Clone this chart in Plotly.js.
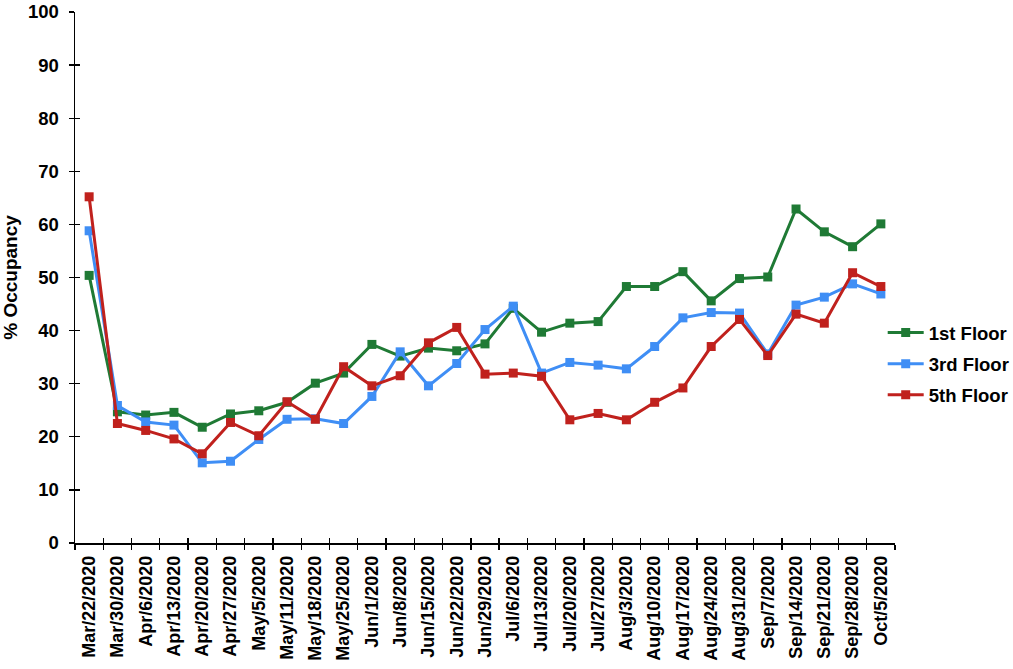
<!DOCTYPE html>
<html>
<head>
<meta charset="utf-8">
<script src="https://cdn.plot.ly/plotly-3.0.1.min.js"></script>
<style>html,body{margin:0;padding:0;background:#fff;overflow:hidden;}#chart{width:1040px;height:669px;}</style>
</head>
<body>
<div id="chart"></div>
<script>
var categories = ["Mar/22/2020","Mar/30/2020","Apr/6/2020","Apr/13/2020","Apr/20/2020","Apr/27/2020","May/5/2020","May/11/2020","May/18/2020","May/25/2020","Jun/1/2020","Jun/8/2020","Jun/15/2020","Jun/22/2020","Jun/29/2020","Jul/6/2020","Jul/13/2020","Jul/20/2020","Jul/27/2020","Aug/3/2020","Aug/10/2020","Aug/17/2020","Aug/24/2020","Aug/31/2020","Sep/7/2020","Sep/14/2020","Sep/21/2020","Sep/28/2020","Oct/5/2020"];
var floor1 = [50.4,24.7,24.1,24.6,21.8,24.3,24.9,26.5,30.1,32.0,37.4,35.2,36.7,36.2,37.5,44.2,39.7,41.4,41.7,48.3,48.3,51.1,45.6,49.8,50.1,62.9,58.6,55.8,60.1];
var floor3 = [58.8,25.9,22.8,22.2,15.1,15.4,19.5,23.3,23.4,22.5,27.6,36.0,29.6,33.8,40.2,44.6,32.0,34.0,33.5,32.8,37.0,42.4,43.4,43.3,35.6,44.8,46.3,48.8,46.9];
var floor5 = [65.2,22.5,21.2,19.6,16.8,22.7,20.2,26.6,23.3,33.2,29.6,31.5,37.7,40.6,31.8,32.0,31.4,23.2,24.4,23.2,26.5,29.2,37.0,42.1,35.3,43.1,41.4,50.9,48.3];
var seriesNames = ["1st Floor","3rd Floor","5th Floor"];
var seriesColors = ["#1f7a35","#3f8ef5","#c0211d"];
var seriesData = [floor1, floor3, floor5];
var yTicks = [0,10,20,30,40,50,60,70,80,90,100];

var traces = seriesData.map(function(d, i){
  return {
    type: 'scatter', mode: 'lines+markers',
    x: categories, y: d, name: seriesNames[i], legendgroup: 'g' + i,
    line: {color: seriesColors[i], width: 3},
    marker: {symbol: 'square', size: 9, color: seriesColors[i]}
  };
});
// helper trace for cross ticks (inside part)
traces.push({type:'scatter', mode:'markers', x:[0], y:[0], xaxis:'x2', yaxis:'y2', showlegend:false, hoverinfo:'skip', marker:{opacity:0}});

var font = "Liberation Sans, Arial, sans-serif";
var layout = {
  width: 1040, height: 669,
  margin: {l: 75, r: 145, t: 12, b: 126},
  paper_bgcolor: '#fff', plot_bgcolor: '#fff',
  showlegend: true,
  legend: {x: 0.985, xanchor: 'left', y: 0.337, yanchor: 'middle',
           font: {family: font, size: 18.5, color: '#000', weight: 'bold'}, tracegroupgap: 4, itemwidth: 36, borderwidth: 0, bgcolor: 'rgba(0,0,0,0)'},
  xaxis: {
    type: 'category', range: [-0.5, 28.5], tickson: 'boundaries',
    ticks: 'outside', ticklen: 5, tickwidth: 1.3, tickcolor: '#000',
    showline: true, linecolor: '#000', linewidth: 1.5, showgrid: false, zeroline: false,
    tickangle: -90, tickfont: {family: font, size: 18, color: '#000', weight: 'bold'},
    ticklabelstandoff: 4,
    automargin: false
  },
  yaxis: {
    range: [0, 100], tickvals: yTicks, ticktext: yTicks.map(String),
    ticks: 'outside', ticklen: 5, tickwidth: 1.3, tickcolor: '#000',
    showline: true, linecolor: '#000', linewidth: 1.5, showgrid: false, zeroline: false,
    tickfont: {family: font, size: 18.5, color: '#000', weight: 'bold'},
    ticklabelstandoff: 6,
    title: {text: '% Occupancy', font: {family: font, size: 19, color: '#000', weight: 'bold'}, standoff: 6},
    automargin: false
  },
  xaxis2: {overlaying: 'x', range: [-0.5, 28.5], tick0: -0.5, dtick: 1, ticks: 'inside', ticklen: 5, tickwidth: 1.3, tickcolor: '#000', showticklabels: false, showline: false, showgrid: false, zeroline: false, anchor: 'y2'},
  yaxis2: {overlaying: 'y', range: [0, 100], tickvals: yTicks, ticks: 'inside', ticklen: 5, tickwidth: 1.3, tickcolor: '#000', showticklabels: false, showline: false, showgrid: false, zeroline: false, side: 'left', anchor: 'x2'}
};
Plotly.newPlot('chart', traces, layout, {displayModeBar: false, staticPlot: true});
</script>
</body>
</html>
